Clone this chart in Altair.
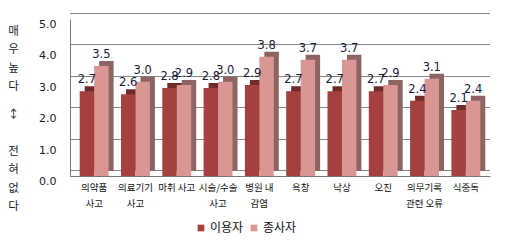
import altair as alt
import pandas as pd

categories = ["의약품|사고", "의료기기|사고", "마취 사고", "시술/수술|사고", "병원 내|감염",
              "욕창", "낙상", "오진", "의무기록|관련 오류", "식중독"]
series = ["이용자", "종사자"]
users = [2.7, 2.6, 2.8, 2.8, 2.9, 2.7, 2.7, 2.7, 2.4, 2.1]
staff = [3.5, 3.0, 2.9, 3.0, 3.8, 3.7, 3.7, 2.9, 3.1, 2.4]
front_colors = ["#A4413F", "#D99694"]
side_colors = ["#6E2B2A", "#8E6463"]

rows = []
for c, u, s in zip(categories, users, staff):
    rows.append({"cat": c, "series": series[0], "value": u})
    rows.append({"cat": c, "series": series[1], "value": s})
df = pd.DataFrame(rows)

FONT = "DejaVu Sans"
KFONT = "Noto Sans CJK KR"
B = "\u200b"

x_enc = alt.X("cat:N", sort=categories,
              scale=alt.Scale(paddingInner=0.3, paddingOuter=0.235),
              axis=alt.Axis(title=None, labelAngle=0, labelExpr="split(datum.label, '|')",
                            labelFont=KFONT, labelFontSize=9.5, labelColor="#111",
                            labelLineHeight=16, labelPadding=6, labelBaseline="top",
                            ticks=False, domainColor="#777", grid=False))
y_scale = alt.Scale(domain=[0, 5])
y_axis = alt.Axis(values=[0, 1, 2, 3, 4, 5], format=".1f", ticks=False,
                  labelOverlap=False,
                  labelFont=FONT, labelFontSize=11, labelColor="#1a1a2a",
                  labelPadding=14, tickOffset=-6, labelOffset=11.5,
                  grid=True, gridDash=[1, 1], gridColor="#111", gridWidth=1,
                  domainColor="#777",
                  title=["매", B, "우", B, "높", B, "다", B, B, "↕", B, B, B,
                         "전", B, "혀", B, "없", B, "다"],
                  titleAngle=0, titleAlign="center", titleBaseline="top",
                  titleX=-57, titleY=6, titleFont=KFONT, titleFontSize=11.5,
                  titleFontWeight="normal", titleLineHeight=9.25, titleColor="#1a1a2a")
y_enc = alt.Y("value:Q", scale=y_scale, axis=y_axis)

base = alt.Chart(df)

group_w = 0.7 * 420 / (10 - 0.3 + 0.47)

shadow = base.mark_bar(yOffset=-5, y2Offset=-5).encode(
    x=x_enc,
    xOffset=alt.XOffset("series:N", sort=series,
                        scale=alt.Scale(range=[5, 5 + group_w])),
    y=y_enc,
    fill=alt.Fill("series:N", scale=alt.Scale(domain=series, range=side_colors), legend=None),
)

front = base.mark_bar().encode(
    x=x_enc, xOffset=alt.XOffset("series:N", sort=series), y=y_enc,
    color=alt.Color("series:N", sort=series,
                    scale=alt.Scale(domain=series, range=front_colors),
                    legend=alt.Legend(title=None, orient="none", direction="horizontal",
                                      legendX=125, legendY=203, symbolType="square",
                                      symbolSize=45, symbolStrokeWidth=0,
                                      labelFont=KFONT, labelFontSize=12, labelColor="#111",
                                      columnPadding=4, labelOffset=3)),
)

labels = base.mark_text(dy=-11, font=FONT, fontSize=11.5, color="#1a1a3a").encode(
    x=x_enc, xOffset=alt.XOffset("series:N", sort=series), y=y_enc,
    text=alt.Text("value:Q", format=".1f"),
)

chart = alt.layer(shadow, front, labels).resolve_scale(
    color="independent", fill="independent", xOffset="independent"
).properties(
    width=420, height=157,
    padding={"left": 70, "top": 19, "right": 18, "bottom": 66},
    autosize=alt.AutoSizeParams(type="none"),
    background="white",
).configure_view(stroke=None)

chart.save("out.html", embed_options={"renderer": "svg", "actions": False})
